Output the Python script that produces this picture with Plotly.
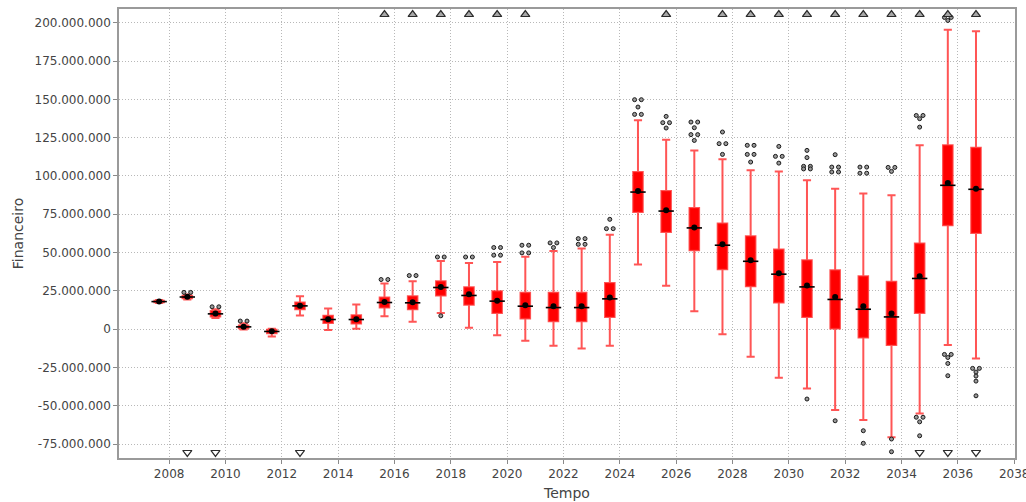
import plotly.graph_objects as go

# Anos simulados e estatísticas de cada caixa (valores em milhões de R$)
anos = list(range(2008, 2038))

lim_inf = [17.0, 19.3, 7.3, -0.2, -4.8, 8.9, -0.6, 0.2, 8.5, 4.8,
           10.6, 1.0, -3.9, -7.6, -10.9, -12.6, -10.9, 42.2, 28.3, 11.7,
           -3.3, -18.0, -31.7, -38.7, -52.8, -59.3, -70.6, -55.0, -10.4, -19.1]
quartil1 = [17.5, 20.2, 8.3, 0.6, -2.6, 13.0, 4.1, 3.7, 14.2, 13.0,
            22.0, 15.9, 10.6, 7.0, 5.2, 5.2, 8.0, 76.5, 63.5, 51.5,
            39.1, 28.0, 17.4, 8.0, 0.4, -5.4, -10.4, 10.6, 67.8, 62.8]
mediana = [18.0, 21.0, 10.0, 1.5, -1.5, 15.2, 6.3, 6.3, 17.4, 17.2,
           27.2, 22.0, 18.3, 15.0, 14.1, 14.1, 19.8, 89.5, 77.1, 66.1,
           54.8, 44.3, 35.9, 27.6, 19.4, 13.0, 8.0, 33.1, 93.9, 91.3]
quartil3 = [18.5, 21.8, 11.8, 2.4, -0.3, 17.4, 8.7, 9.1, 20.7, 21.5,
            31.2, 27.4, 24.8, 23.7, 23.7, 23.7, 30.2, 102.6, 90.2, 79.1,
            68.9, 60.6, 52.0, 45.0, 38.5, 34.6, 30.9, 55.9, 120.0, 118.5]
lim_sup = [19.0, 22.6, 13.0, 3.9, 0.2, 21.5, 13.5, 16.1, 29.8, 31.3,
           44.5, 43.2, 43.9, 47.2, 51.1, 52.6, 61.7, 136.3, 123.7, 116.7,
           110.9, 103.7, 103.0, 97.2, 91.7, 88.5, 87.4, 120.0, 195.4, 194.5]
media = [18.1, 21.1, 10.3, 1.6, -1.4, 15.3, 6.4, 6.5, 17.8, 17.6,
         27.6, 22.8, 18.6, 15.6, 14.9, 14.9, 20.6, 90.2, 77.6, 66.3,
         55.5, 45.0, 36.5, 28.5, 21.0, 15.0, 10.2, 34.6, 95.4, 91.7]

# Valores atípicos por ano (repetidos = pontos lado a lado)
atipicos = [
    [], [24.0, 24.0], [14.6, 14.6], [5.3, 5.3], [], [], [], [],
    [32.4, 32.4], [35.0, 35.0], [47.1, 47.1, 8.7], [47.1, 47.1],
    [53.3, 53.3, 48.3, 48.3], [54.8, 54.8, 49.8, 49.8], [56.3, 56.3, 53.3],
    [59.1, 59.1, 55.4, 55.4], [71.7, 65.6, 65.6],
    [149.8, 149.8, 145.0, 140.2, 140.2], [138.9, 134.8, 134.8, 131.3],
    [135.2, 135.2, 131.5, 127.0, 127.0, 123.2], [128.7, 121.1, 121.1, 114.1],
    [120.0, 120.0, 114.1, 114.1, 109.1], [119.3, 112.8, 112.8, 108.4],
    [116.7, 112.0, 106.3, 106.3, 104.6, 104.6, -45.6],
    [113.9, 105.8, 105.8, 102.6, 102.6, -59.8],
    [105.8, 105.8, 101.8, 101.8, -66.3, -74.5],
    [105.6, 105.6, 103.0, -71.7, -80.0],
    [139.5, 139.5, 137.4, 131.9, -57.5, -57.5, -60.5, -69.6],
    [203.5, 203.5, 201.5, -16.5, -16.5, -18.5, -22.4, -30.4],
    [-25.6, -25.6, -28.0, -30.6, -33.9, -43.5],
]

# Anos com valores extremos fora da escala (acima / abaixo)
fora_acima = [2016, 2017, 2018, 2019, 2020, 2021, 2026, 2028, 2029, 2030,
              2031, 2032, 2033, 2034, 2035, 2036, 2037]
fora_abaixo = [2009, 2010, 2013, 2035, 2036, 2037]

# Escala
ESC = 1e6
Y_MIN, Y_MAX = -84.1, 209.0
X_MIN, X_MAX = 2006.22, 2038.03
DESLOC = -0.355          # posição da caixa dentro do período
LARG = 0.34              # largura da caixa (anos)
PASSO_ATIP = 0.24        # espaçamento horizontal entre atípicos iguais

xs = [a + DESLOC for a in anos]
m = lambda v: [x * ESC for x in v]

fig = go.Figure()

fig.add_trace(go.Box(
    x=xs, q1=m(quartil1), median=m(mediana), q3=m(quartil3),
    lowerfence=m(lim_inf), upperfence=m(lim_sup),
    boxpoints=False, width=LARG, whiskerwidth=0.85,
    fillcolor="#ff0000",
    line=dict(color="rgba(255,20,20,0.72)", width=2),
    hoverinfo="skip", showlegend=False,
))

# Mediana em preto
fig.add_trace(go.Scatter(
    x=xs, y=m(mediana), mode="markers",
    marker=dict(symbol="line-ew", size=11, line=dict(color="black", width=1.6)),
    hoverinfo="skip", showlegend=False,
))

# Média
fig.add_trace(go.Scatter(
    x=xs, y=m(media), mode="markers",
    marker=dict(symbol="circle", size=6, color="black"),
    hoverinfo="skip", showlegend=False,
))

# Atípicos, agrupados lado a lado quando repetidos
ax, ay = [], []
for xc, vals in zip(xs, atipicos):
    grupos = {}
    for v in vals:
        grupos[v] = grupos.get(v, 0) + 1
    for v, n in grupos.items():
        for k in range(n):
            ax.append(xc + (k - (n - 1) / 2) * PASSO_ATIP)
            ay.append(v * ESC)
fig.add_trace(go.Scatter(
    x=ax, y=ay, mode="markers",
    marker=dict(symbol="circle", size=4, color="#9a9a9a",
                line=dict(color="#1a1a1a", width=1)),
    hoverinfo="skip", showlegend=False,
))

# Indicadores de valores fora da escala
fig.add_trace(go.Scatter(
    x=[a + DESLOC for a in fora_acima],
    y=[(Y_MAX - 3.6) * ESC] * len(fora_acima), mode="markers",
    marker=dict(symbol="triangle-up", size=8, color="#a8a8a8",
                line=dict(color="#2a2a2a", width=1.2)),
    hoverinfo="skip", showlegend=False,
))
fig.add_trace(go.Scatter(
    x=[a + DESLOC for a in fora_abaixo],
    y=[(Y_MIN + 3.6) * ESC] * len(fora_abaixo), mode="markers",
    marker=dict(symbol="triangle-down", size=8, color="#ffffff",
                line=dict(color="#2a2a2a", width=1.2)),
    hoverinfo="skip", showlegend=False,
))

y_ticks = list(range(-75, 201, 25))
y_text = [f"{v * 1000000:,}".replace(",", ".") for v in y_ticks]
x_ticks = list(range(2008, 2039, 2))

eixo = dict(
    showline=True, linecolor="#9a9a9a", linewidth=1.5, mirror=True,
    showgrid=True, gridcolor="#b8b8b8", griddash="1px,2px", gridwidth=1,
    zeroline=False, ticks="outside", ticklen=4, tickcolor="#8a8a8a",
    tickfont=dict(family="DejaVu Sans", size=12, color="#444444"),
    automargin=False,
)

fig.update_layout(
    width=1026, height=502,
    margin=dict(l=119, r=11, t=9, b=44),
    paper_bgcolor="white", plot_bgcolor="white",
    xaxis=dict(eixo, range=[X_MIN, X_MAX], tickvals=x_ticks,
               ticktext=[str(t) for t in x_ticks], ticklabeloverflow="allow",
               title=dict(text="Tempo", standoff=8,
                          font=dict(family="DejaVu Sans", size=14, color="#444444"))),
    yaxis=dict(eixo, range=[Y_MIN * ESC, Y_MAX * ESC],
               tickvals=[v * ESC for v in y_ticks], ticktext=y_text,
               title=dict(text="Financeiro", standoff=8,
                          font=dict(family="DejaVu Sans", size=14, color="#444444"))),
)

fig.write_html("out.html")
